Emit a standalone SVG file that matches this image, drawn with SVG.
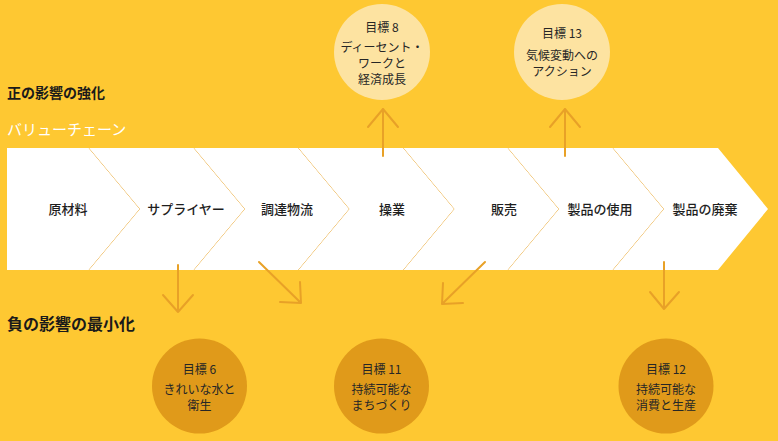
<svg xmlns="http://www.w3.org/2000/svg" width="778" height="441" viewBox="0 0 778 441">
<style>
.bg{fill:#FEC832}
.chev{fill:#FFFFFF}
.edge{fill:none;stroke:#E9A83A;stroke-width:1}
.lbl{font-family:"Noto Sans CJK JP","Noto Sans",sans-serif;font-size:13px;font-weight:500;fill:#1e1e1e;text-anchor:middle}
.hdr{font-family:"Noto Sans CJK JP","Noto Sans",sans-serif;font-weight:700;fill:#1a1a1a}
.vc{font-family:"Noto Sans CJK JP","Noto Sans",sans-serif;font-size:15px;fill:#FFFFFF}
.cl{fill:#FDE3A1}
.cd{fill:#E09A1A}
.ct{font-family:"Noto Sans CJK JP","Noto Sans",sans-serif;font-size:12px;fill:#262626;text-anchor:middle}
.arr{fill:none;stroke:#E8A127;stroke-width:2;stroke-linecap:round;stroke-linejoin:round}
</style>
<rect class="bg" x="0" y="0" width="778" height="441"/>

<text class="hdr" x="7" y="98" font-size="14">正の影響の強化</text>
<text class="vc" x="7" y="135">バリューチェーン</text>
<text class="hdr" x="7" y="330" font-size="16">負の影響の最小化</text>

<g id="node-raw">
<polygon class="chev" points="7,148 89,148 140,209 89,270 7,270"/>
<polyline class="edge" points="89,148 140,209 89,270"/>
<text class="lbl" x="68" y="214">原材料</text>
</g>
<g id="node-supplier">
<polygon class="chev" points="89,148 194,148 245,209 194,270 89,270 140,209"/>
<polyline class="edge" points="194,148 245,209 194,270"/>
<text class="lbl" x="186" y="214">サプライヤー</text>
</g>
<g id="node-logistics">
<polygon class="chev" points="194,148 298.5,148 349.5,209 298.5,270 194,270 245,209"/>
<polyline class="edge" points="298.5,148 349.5,209 298.5,270"/>
<text class="lbl" x="287" y="214">調達物流</text>
</g>
<g id="node-operation">
<polygon class="chev" points="298.5,148 403.5,148 454.5,209 403.5,270 298.5,270 349.5,209"/>
<polyline class="edge" points="403.5,148 454.5,209 403.5,270"/>
<text class="lbl" x="392" y="214">操業</text>
</g>
<g id="node-sales">
<polygon class="chev" points="403.5,148 508,148 559,209 508,270 403.5,270 454.5,209"/>
<polyline class="edge" points="508,148 559,209 508,270"/>
<text class="lbl" x="504" y="214">販売</text>
</g>
<g id="node-use">
<polygon class="chev" points="508,148 613,148 664,209 613,270 508,270 559,209"/>
<polyline class="edge" points="613,148 664,209 613,270"/>
<text class="lbl" x="600" y="214">製品の使用</text>
</g>
<g id="node-disposal">
<polygon class="chev" points="613,148 718,148 768,209 718,270 613,270 664,209"/>
<text class="lbl" x="705" y="214">製品の廃棄</text>
</g>

<g id="goal8">
<circle class="cl" cx="382" cy="52" r="48"/>
<text class="ct" x="382" y="32">目標 8</text>
<text class="ct" x="382" y="52">ディーセント・</text>
<text class="ct" x="382" y="68">ワークと</text>
<text class="ct" x="382" y="84">経済成長</text>
</g>
<g id="goal13">
<circle class="cl" cx="562" cy="52" r="48"/>
<text class="ct" x="562" y="38">目標 13</text>
<text class="ct" x="562" y="60">気候変動への</text>
<text class="ct" x="562" y="76">アクション</text>
</g>
<g id="goal6">
<circle class="cd" cx="199.5" cy="386" r="47.5"/>
<text class="ct" x="199.5" y="374">目標 6</text>
<text class="ct" x="199.5" y="394">きれいな水と</text>
<text class="ct" x="199.5" y="410">衛生</text>
</g>
<g id="goal11">
<circle class="cd" cx="381.5" cy="386" r="47.5"/>
<text class="ct" x="381.5" y="374">目標 11</text>
<text class="ct" x="381.5" y="394">持続可能な</text>
<text class="ct" x="381.5" y="410">まちづくり</text>
</g>
<g id="goal12">
<circle class="cd" cx="666" cy="386" r="47.5"/>
<text class="ct" x="666" y="374">目標 12</text>
<text class="ct" x="666" y="394">持続可能な</text>
<text class="ct" x="666" y="410">消費と生産</text>
</g>

<g id="connectors">
<path class="arr" d="M383,156 L383,109 M368,127 L383,109 L398,127"/>
<path class="arr" d="M565,156 L565,109 M550,127 L565,109 L580,127"/>
<path class="arr" d="M178,265 L178,312 M163,295 L178,312 L193,295"/>
<path class="arr" d="M259,262 L301,303 M280,302 L301,303 L300,282"/>
<path class="arr" d="M485,262 L442,304 M463,303 L442,304 L443,283"/>
<path class="arr" d="M664,262 L664,309 M650,292 L664,309 L679,292"/>
</g>
</svg>
